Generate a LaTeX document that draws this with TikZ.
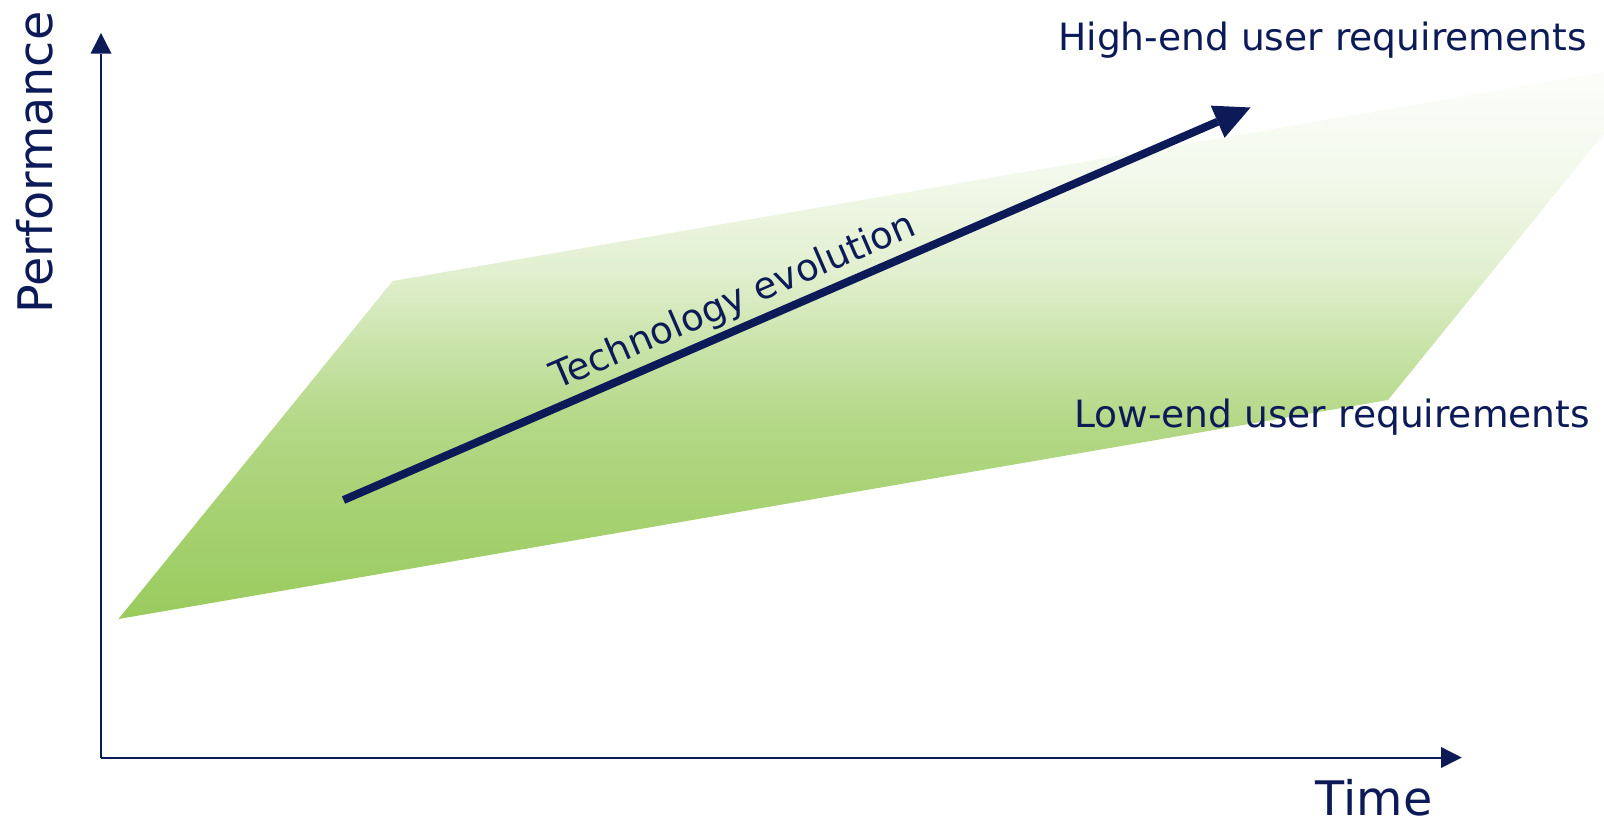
\documentclass[tikz,border=0pt]{standalone}
\usepackage{fontspec}
\setmainfont{DejaVu Sans}
\usetikzlibrary{arrows.meta,calc}

\definecolor{ink}{HTML}{0C1B58}
\definecolor{bandgreen}{HTML}{9ACB5E}
\colorlet{bandA}{bandgreen!87!white}
\colorlet{bandB}{bandgreen!74!white}
\colorlet{bandC}{bandgreen!48!white}
\colorlet{bandD}{bandgreen!30!white}
\colorlet{bandE}{bandgreen!12!white}
\colorlet{bandF}{bandgreen!2!white}

% vertical fade of the requirement band: green at the bottom, almost white at the top
\pgfdeclareverticalshading{bandshade}{100bp}{%
  color(0bp)=(bandgreen); color(25bp)=(bandgreen); color(35bp)=(bandA);
  color(43bp)=(bandB); color(51bp)=(bandC); color(56bp)=(bandD);
  color(65bp)=(bandE); color(75bp)=(bandF); color(100bp)=(bandF)}

\begin{document}
\begin{tikzpicture}[x=0.5pt,y=-0.5pt,
  axis/.style={draw=ink, line width=1pt,
    -{Triangle[length=10.3pt,width=10.5pt,line width=0pt]}},
  trend/.style={draw=ink, line width=4pt,
    -{Triangle[length=17.9pt,width=17.5pt,line width=0pt]}},
  axislabel/.style={text=ink, inner sep=0pt, text depth=0pt,
    font=\fontsize{23.8pt}{28pt}\selectfont},
  reqlabel/.style={text=ink, inner sep=0pt,
    font=\fontsize{18.8pt}{22pt}\selectfont},
  trendlabel/.style={text=ink, inner sep=0pt,
    font=\fontsize{18.6pt}{22pt}\selectfont}]
\useasboundingbox (0,0) rectangle (1604,820);

% requirement band (parallelogram running off the right edge)
\begin{scope}
  \clip (0,0) rectangle (1604,820);
  \shade[shading=bandshade]
    (118.5,619) -- (1388,400) -- (1662,62) -- (392.7,281) -- cycle;
\end{scope}

% axes
\coordinate (origin) at (101,757.5);
\coordinate (ytop) at (101,33);
\coordinate (xend) at (1461.7,757.5);
\draw[axis] (origin) -- (ytop);
\draw[axis] (origin) -- (xend);

\node[axislabel, rotate=90, anchor=base] (perf) at (52.7,162.5) {Performance};
\node[axislabel, anchor=base] (time) at (1374,815) {Time};

% technology trend arrow
\coordinate (tail) at (343.5,500);
\coordinate (tip) at (1250.5,107.5);
\draw[trend] (tail) -- (tip);
\coordinate (mid) at ($(tail)!0.442!(tip)$);
\node[trendlabel, rotate=23.4, anchor=base] (tech)
  at ($(mid)!8pt!90:(tip)$) {Technology evolution};

% requirement labels
\node[reqlabel, anchor=base] (high) at (1322.5,50) {High-end user requirements};
\node[reqlabel, anchor=base] (low) at (1332,427) {Low-end user requirements};
\end{tikzpicture}
\end{document}
